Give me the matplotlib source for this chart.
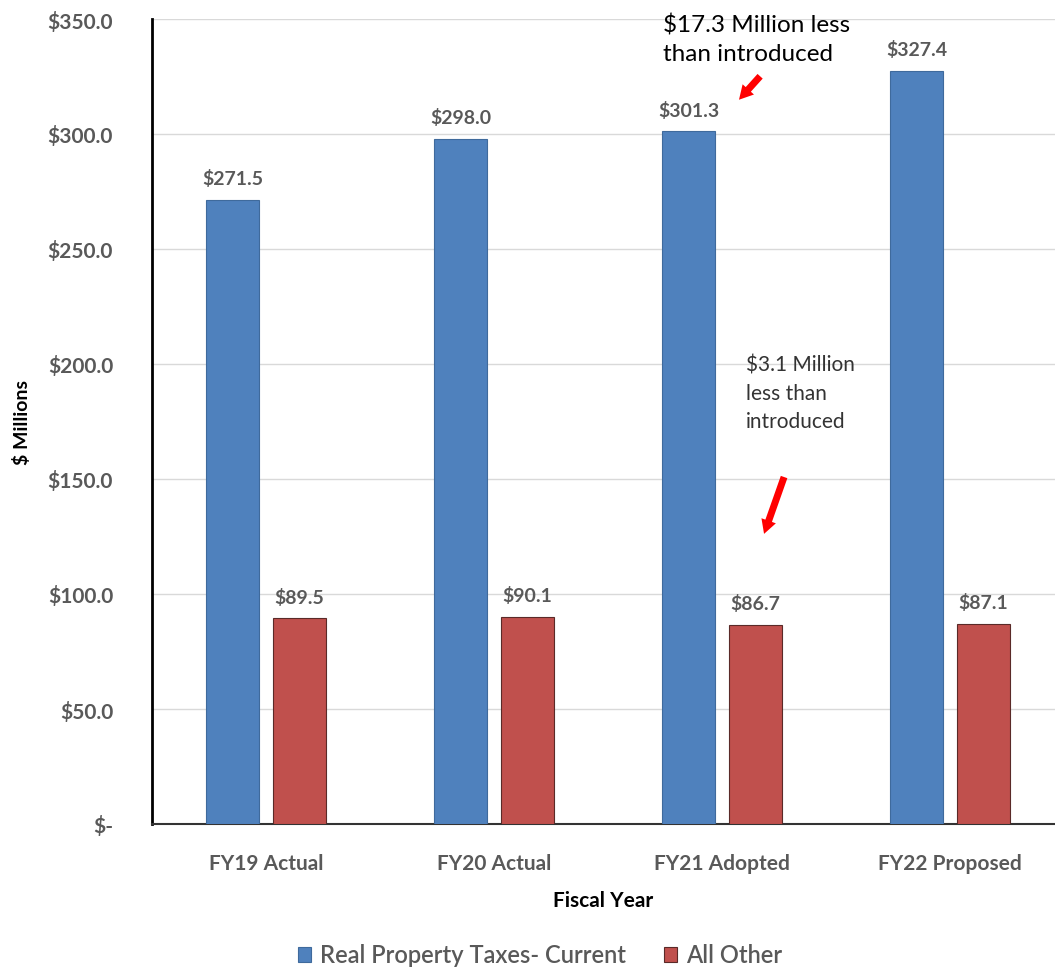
import matplotlib
matplotlib.use("Agg")
import matplotlib.pyplot as plt
import numpy as np

categories = ["FY19 Actual", "FY20 Actual", "FY21 Adopted", "FY22 Proposed"]
real_property = [271.5, 298.0, 301.3, 327.4]
all_other = [89.5, 90.1, 86.7, 87.1]
series_names = ["Real Property Taxes- Current", "All Other"]
yticks = [0, 50, 100, 150, 200, 250, 300, 350]
ytick_labels = ["$-", "$50.0", "$100.0", "$150.0", "$200.0", "$250.0", "$300.0", "$350.0"]

BLUE = "#4F81BD"
RED = "#C0504D"
GREY = "#595959"
FONT = ["Lato", "DejaVu Sans"]

fig = plt.figure(figsize=(10.55, 9.7), dpi=100)
ax = fig.add_axes([152/1055, 145/970, 1 - 152/1055, (825-20)/970])

x = np.arange(len(categories))
w = 0.232
off = 0.146
b1 = ax.bar(x - off, real_property, w, color=BLUE, edgecolor="#3f6a9c", linewidth=0.8, zorder=3,
            label=series_names[0])
b2 = ax.bar(x + off, all_other, w, color=RED, edgecolor="#5a2a28", linewidth=0.8, zorder=3,
            label=series_names[1])

for bars, vals in ((b1, real_property), (b2, all_other)):
    for r, v in zip(bars, vals):
        ax.annotate(f"${v:.1f}", (r.get_x() + r.get_width()/2, v), xytext=(0, 9),
                    textcoords="offset points", ha="center", va="bottom",
                    fontsize=14, fontweight="bold", color=GREY, family=FONT)

ax.set_xlim(-0.5, 3.46)
ax.set_ylim(0, 350)
ax.set_yticks(yticks)
ax.set_yticklabels(ytick_labels)
ax.set_xticks(x)
ax.set_xticklabels(categories)
for lab in ax.get_yticklabels() + ax.get_xticklabels():
    lab.set_family(FONT)
    lab.set_fontweight("bold")
    lab.set_color(GREY)
    lab.set_fontsize(15)
ax.tick_params(axis="both", length=0)
ax.tick_params(axis="y", pad=28)
ax.tick_params(axis="x", pad=21)
ax.grid(axis="y", color="#d9d9d9", linewidth=1, zorder=0)
ax.set_axisbelow(True)
for s in ("top", "right"):
    ax.spines[s].set_visible(False)
ax.spines["left"].set_color("black")
ax.spines["left"].set_linewidth(2)
ax.spines["bottom"].set_color("#333333")
ax.spines["bottom"].set_linewidth(1.5)

ax.set_ylabel("$ Millions", fontsize=14, fontweight="bold", family=FONT, labelpad=12)
ax.set_xlabel("Fiscal Year", fontsize=15, fontweight="bold", family=FONT, labelpad=12)

# annotations
ax.text(1.741, 352.5, "$17.3 Million less\nthan introduced", ha="left", va="top",
        fontsize=17.5, family=FONT, color="black", linespacing=1.45, clip_on=False)
ax.annotate("", xy=(2.066, 314), xytext=(2.175, 326),
            arrowprops=dict(arrowstyle="simple,head_width=1.1,head_length=1.0,tail_width=0.5",
                            color="red", lw=0), annotation_clip=False)
ax.text(2.105, 204, "$3.1 Million\nless than\nintroduced", ha="left", va="top",
        fontsize=15, family=FONT, color="#333333", linespacing=1.5)
ax.annotate("", xy=(2.18, 125), xytext=(2.276, 152),
            arrowprops=dict(arrowstyle="simple,head_width=1.1,head_length=1.0,tail_width=0.5",
                            color="red", lw=0))

leg = fig.legend(handles=[b1, b2], labels=series_names, loc="center", bbox_to_anchor=(540/1055, 14/970),
                 ncol=2, frameon=False, prop=dict(family=FONT, size=17, weight="semibold"),
                 handlelength=0.55, handleheight=0.6, handletextpad=0.4, columnspacing=1.6,
                 labelcolor=GREY)

fig.savefig("out.png", dpi=100)
